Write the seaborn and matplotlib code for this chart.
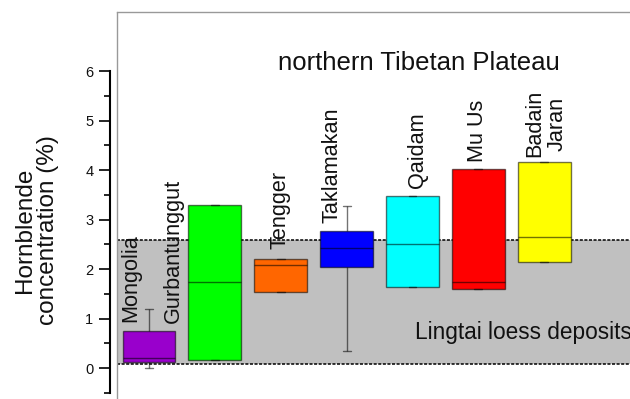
import numpy as np
import pandas as pd
import matplotlib
matplotlib.use("Agg")
import matplotlib.pyplot as plt
import seaborn as sns

# ---- data ----
deserts = ["Mongolia", "Gurbantunggut", "Tengger", "Taklamakan", "Qaidam", "Mu Us", "Badain Jaran"]
labels = ["Mongolia", "Gurbantunggut", "Tengger", "Taklamakan", "Qaidam", "Mu Us", "Badain\nJaran"]
whisker_low = [0.01, 0.17, 1.54, 0.34, 1.64, 1.59, 2.15]
q1 = [0.115, 0.17, 1.54, 2.04, 1.64, 1.59, 2.15]
median = [0.20, 1.73, 2.09, 2.42, 2.51, 1.74, 2.64]
q3 = [0.75, 3.29, 2.20, 2.77, 3.48, 4.02, 4.17]
whisker_high = [1.20, 3.29, 2.20, 3.28, 3.48, 4.02, 4.17]
colors = ["#9900CC", "#00FF00", "#FF6600", "#0000FF", "#00FFFF", "#FF0000", "#FFFF00"]
label_bottom = [0.93, 0.91, 2.40, 2.93, 3.64, 4.16, 4.26]
label_x = [-0.27, 0.37, 1.99, 2.78, 4.07, 4.98, 6.02]
band_low, band_high = 0.09, 2.59
yticks = [0, 1, 2, 3, 4, 5, 6]

rows = []
for d, a, b, c, e, f in zip(deserts, whisker_low, q1, median, q3, whisker_high):
    for v in (a, b, c, e, f):
        rows.append({"desert": d, "value": v})
df = pd.DataFrame(rows)

sns.set_style("white")
plt.rcParams["font.family"] = ["Liberation Sans", "DejaVu Sans"]

fig = plt.figure(figsize=(6.3, 3.99), dpi=100)
# axes: left edge at px 117, top at px 12, extends past right/bottom figure edges
ax = fig.add_axes([117 / 630, -40 / 399, (650 - 117) / 630, (399 - 12 + 40) / 399])

ax.axhspan(band_low, band_high, facecolor="#C0C0C0", edgecolor="black",
           linestyle=(0, (2, 1)), linewidth=1.1, zorder=0)

sns.boxplot(data=df, x="desert", y="value", hue="desert", order=deserts,
            hue_order=deserts, palette=colors, saturation=1, width=0.8,
            whis=(0, 100), linecolor=(0, 0, 0, 0.55), linewidth=1.0,
            legend=False, ax=ax, capwidths=0.12, zorder=2)

ax.set_xlim(-0.484, 7.604)
ax.set_ylim(-1.434, 7.192)

for lab, x, y in zip(labels, label_x, label_bottom):
    ax.text(x, y, lab, rotation=90, ha="center", va="bottom",
            multialignment="center", fontsize=15.6, color="#111111",
            linespacing=1.1)

ax.text(4.10, 6.16, "northern Tibetan Plateau", ha="center", va="center",
        fontsize=18.5, color="#111111")
ax.text(4.04, 0.71, "Lingtai loess deposits", ha="left", va="center",
        fontsize=16.3, color="#111111")

fig.text(36.5 / 630, (399 - 230) / 399, "Hornblende\nconcentration (%)",
         rotation=90, ha="center", va="center", fontsize=17.5,
         color="#111111", linespacing=1.05, multialignment="center")

# spines / axis
ax.set_xlabel("")
ax.set_ylabel("")
ax.set_xticks([])
for s in ("right", "bottom"):
    ax.spines[s].set_visible(False)
ax.spines["top"].set_color("#999999")
ax.spines["top"].set_linewidth(1.0)
ax.spines["left"].set_position(("outward", 5))
ax.spines["left"].set_bounds(-0.5, 6)
ax.spines["left"].set_linewidth(1.5)
ax.spines["left"].set_color("black")
ax.axvline(-0.484, color="#999999", linewidth=1.0, zorder=5, clip_on=False)

ax.set_yticks(yticks)
ax.set_yticklabels([str(t) for t in yticks])
ax.set_yticks([-0.5, 0.5, 1.5, 2.5, 3.5, 4.5, 5.5], minor=True)
ax.tick_params(axis="y", which="major", left=True, length=8, width=1.2,
               labelsize=10.5, pad=4, color="black", labelcolor="#111111")
ax.tick_params(axis="y", which="minor", left=True, length=4, width=1.2,
               color="black")

fig.savefig("out.png", dpi=100)
